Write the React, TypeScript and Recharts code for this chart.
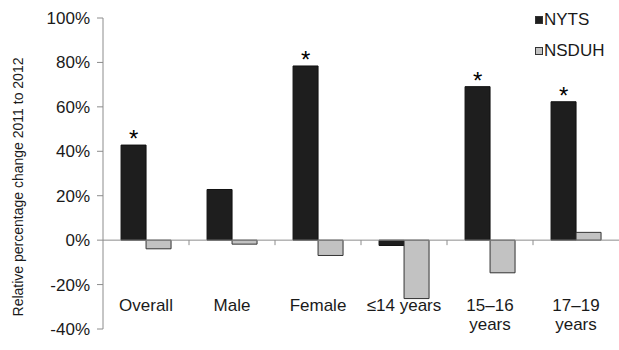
import { Bar, BarChart, LabelList, Legend, ReferenceLine, XAxis, YAxis } from "recharts";

const categories = ["Overall", "Male", "Female", "≤14 years", "15–16\nyears", "17–19\nyears"];
const nytsValues = [42.8, 22.8, 78.4, -2.4, 69.1, 62.3];
const nsduhValues = [-3.9, -1.8, -6.9, -26.3, -14.7, 3.5];
const nytsSignificant = [true, false, true, false, true, true];
const yTicks = [-40, -20, 0, 20, 40, 60, 80, 100];

const FONT = "'Liberation Sans', Arial, sans-serif";
const NYTS_COLOR = "#1e1e1e";
const NSDUH_COLOR = "#c2c2c2";
const AXIS_COLOR = "#8c8c8c";
const TEXT_COLOR = "#1a1a1a";

const data = categories.map((label, i) => ({
  label,
  nyts: nytsValues[i],
  nsduh: nsduhValues[i],
  sig: nytsSignificant[i],
}));

function CategoryTick(props: any) {
  const { x, y, payload } = props;
  const lines = String(payload.value).split("\n");
  return (
    <text x={x} y={y - 20} textAnchor="middle" fill={TEXT_COLOR} fontSize={17} fontFamily={FONT}>
      {lines.map((line, i) => (
        <tspan key={i} x={x} dy={i === 0 ? 0 : 19}>
          {line}
        </tspan>
      ))}
    </text>
  );
}

// zero line with small tick marks at category boundaries
function ZeroLine(props: any) {
  const { x1, y1, x2 } = props;
  const step = (x2 - x1) / categories.length;
  const marks = [];
  for (let i = 1; i < categories.length; i++) {
    const mx = x1 + step * i;
    marks.push(<line key={i} x1={mx} x2={mx} y1={y1} y2={y1 + 5} stroke={AXIS_COLOR} strokeWidth={1} />);
  }
  return (
    <g>
      <line x1={x1} x2={x2} y1={y1} y2={y1} stroke={AXIS_COLOR} strokeWidth={1} />
      {marks}
    </g>
  );
}

function Star(props: any) {
  const { x, y, width, index } = props;
  if (!data[index].sig) return null;
  return (
    <text x={x + width / 2} y={y + 2} textAnchor="middle" fill="#000" fontSize={24} fontFamily={FONT}>
      *
    </text>
  );
}

function LegendBox() {
  const items = [
    { name: "NYTS", color: NYTS_COLOR },
    { name: "NSDUH", color: NSDUH_COLOR },
  ];
  return (
    <div style={{ width: 84, fontFamily: FONT, fontSize: 17, color: TEXT_COLOR, whiteSpace: "nowrap" }}>
      {items.map((it) => (
        <div key={it.name} style={{ display: "flex", alignItems: "center", height: 31 }}>
          <span
            style={{
              display: "inline-block",
              flexShrink: 0,
              width: 6,
              height: 6,
              background: it.color,
              border: "1px solid #333",
              marginRight: 1,
            }}
          />
          {it.name}
        </div>
      ))}
    </div>
  );
}

export default function App() {
  return (
    <div style={{ position: "absolute", left: 0, top: 0, width: 619, height: 350, background: "#fff" }}>
      <BarChart
        width={619}
        height={350}
        data={data}
        margin={{ top: 18, right: 0, bottom: 0, left: 0 }}
        barCategoryGap="21%"
        barGap={0}
      >
        <XAxis
          dataKey="label"
          height={21}
          axisLine={false}
          tickLine={false}
          tickSize={0}
          interval={0}
          tick={<CategoryTick />}
        />
        <YAxis
          width={103}
          domain={[-40, 100]}
          ticks={yTicks}
          interval={0}
          tickFormatter={(v: number) => `${v}%`}
          tickSize={6}
          tickMargin={7}
          tick={{ fill: TEXT_COLOR, fontSize: 17, fontFamily: FONT }}
          axisLine={{ stroke: AXIS_COLOR }}
          tickLine={{ stroke: AXIS_COLOR }}
          label={() => (
            <text
              x={18}
              y={187}
              transform="rotate(-90, 18, 187)"
              textAnchor="middle"
              dominantBaseline="central"
              fill={TEXT_COLOR}
              fontSize={14}
              fontFamily={FONT}
            >
              Relative percentage change 2011 to 2012
            </text>
          )}
        />
        <Legend
          layout="vertical"
          align="right"
          verticalAlign="top"
          wrapperStyle={{ left: 535, top: 4, width: 0, height: 0, overflow: "visible" }}
          content={<LegendBox />}
        />
        <ReferenceLine y={0} shape={<ZeroLine />} />
        <Bar dataKey="nyts" name="NYTS" fill={NYTS_COLOR} stroke="#111" strokeWidth={1} isAnimationActive={false}>
          <LabelList dataKey="nyts" content={<Star />} />
        </Bar>
        <Bar dataKey="nsduh" name="NSDUH" fill={NSDUH_COLOR} stroke="#333" strokeWidth={1} isAnimationActive={false} />
      </BarChart>
    </div>
  );
}
